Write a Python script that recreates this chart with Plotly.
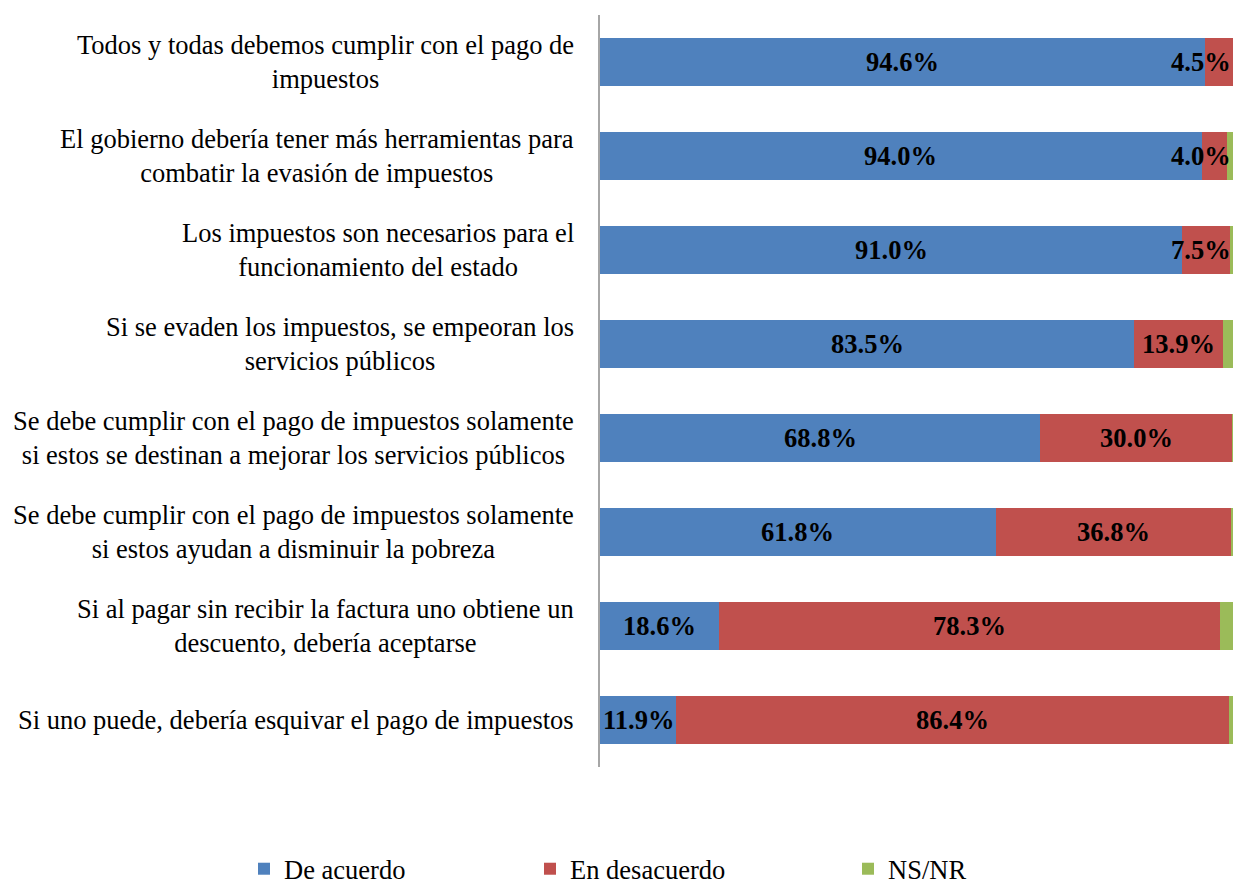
import plotly.graph_objects as go

categories = [
    "Todos y todas debemos cumplir con el pago de<br>impuestos",
    "El gobierno debería tener más herramientas para<br>combatir la evasión de impuestos",
    "Los impuestos son necesarios para el<br>funcionamiento del estado",
    "Si se evaden los impuestos, se empeoran los<br>servicios públicos",
    "Se debe cumplir con el pago de impuestos solamente<br>si estos se destinan a mejorar los servicios públicos",
    "Se debe cumplir con el pago de impuestos solamente<br>si estos ayudan a disminuir la pobreza",
    "Si al pagar sin recibir la factura uno obtiene un<br>descuento, debería aceptarse",
    "Si uno puede, debería esquivar el pago de impuestos",
]
de_acuerdo = [94.6, 94.0, 91.0, 83.5, 68.8, 61.8, 18.6, 11.9]
en_desacuerdo = [4.5, 4.0, 7.5, 13.9, 30.0, 36.8, 78.3, 86.4]
ns_nr = [0.9, 2.0, 1.5, 2.6, 1.2, 1.4, 3.1, 1.7]

series_names = ["De acuerdo", "En desacuerdo", "NS/NR"]
colors = ["#4F81BD", "#C0504D", "#9BBB59"]

SERIF = "Times New Roman, Liberation Serif, serif"
FS = 26.5
W, H = 1233, 886
ML, MR, MT, MB = 600, 0, 15, 119
PX_PER_UNIT = 6.4  # the 100% stack would end just beyond the right edge
XMAX = (W - ML - MR) / PX_PER_UNIT

fig = go.Figure()
legend_ids = ["legend", "legend2", "legend3"]
for name, vals, col, lg in zip(series_names, [de_acuerdo, en_desacuerdo, ns_nr], colors, legend_ids):
    fig.add_trace(go.Bar(
        y=list(range(len(categories))), x=vals, name=name, orientation="h",
        marker=dict(color=col, line=dict(width=0)), hoverinfo="skip", legend=lg,
    ))


def label_halfwidth(txt):
    em = sum(1.0 if ch == "%" else 0.25 if ch == "." else 0.5 for ch in txt)
    return em * FS / 2 / PX_PER_UNIT


VIS_LIMIT = XMAX - 2 / PX_PER_UNIT

for i in range(len(categories)):
    segs = [(de_acuerdo[i] / 2, de_acuerdo[i]),
            (de_acuerdo[i] + en_desacuerdo[i] / 2, en_desacuerdo[i])]
    for cx, v in segs:
        t = f"{v:.1f}%"
        cx = min(cx, VIS_LIMIT - label_halfwidth(t))
        fig.add_annotation(x=cx, y=i, xref="x", yref="y", text=f"<b>{t}</b>",
                           showarrow=False, font=dict(family=SERIF, size=FS, color="black"),
                           xanchor="center", yanchor="middle")

# category labels
for i, cat in enumerate(categories):
    fig.add_annotation(x=0, y=i, xref="paper", yref="y", text=cat, showarrow=False,
                       xanchor="right", yanchor="middle", xshift=-24, align="center",
                       font=dict(family=SERIF, size=FS, color="black"))

leg_common = dict(orientation="h", xref="container", xanchor="left",
                  yref="container", yanchor="middle", y=1 - 869 / H,
                  font=dict(family=SERIF, size=FS, color="black"),
                  itemclick=False, itemdoubleclick=False, bgcolor="rgba(0,0,0,0)")

fig.update_layout(
    width=W, height=H,
    margin=dict(l=ML, r=MR, t=MT, b=MB, autoexpand=False),
    barmode="stack", bargap=0.49,
    plot_bgcolor="white", paper_bgcolor="white",
    showlegend=True,
    legend=dict(x=244 / W, **leg_common),
    legend2=dict(x=530 / W, **leg_common),
    legend3=dict(x=848 / W, **leg_common),
    xaxis=dict(range=[0, XMAX], visible=False, fixedrange=True),
    yaxis=dict(range=[7.5, -0.5], showticklabels=False, showgrid=False, zeroline=False,
               showline=True, linecolor="#A6A6A6", linewidth=2, ticks="", fixedrange=True),
)

fig.write_html("out.html",
               config={"displayModeBar": False, "staticPlot": False},
               post_script="document.body.style.margin='0';document.body.style.overflow='hidden';"
                           "document.documentElement.style.overflow='hidden';")
